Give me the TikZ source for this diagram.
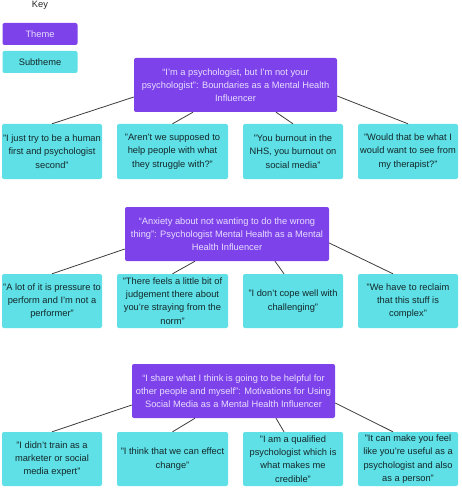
\documentclass[tikz,border=0pt]{standalone}
\usepackage{fontspec}
\setmainfont{Liberation Sans}
\usepackage{tikz}
\usetikzlibrary{positioning,calc}
\definecolor{themepurple}{RGB}{125,66,234}
\definecolor{themetext}{RGB}{232,222,255}
\definecolor{subcyan}{RGB}{94,224,230}
\definecolor{subtext}{RGB}{20,40,42}
\definecolor{linkgray}{RGB}{60,60,60}

\begin{document}
\begin{tikzpicture}[
    x=1pt, y=-1pt,
    theme/.style={rectangle, rounded corners=2pt, fill=themepurple, text=themetext, align=center,
        minimum width=203pt, minimum height=54pt, inner sep=0pt, font=\fontsize{9.3}{13.3}\selectfont},
    subtheme/.style={rectangle, rounded corners=2pt, fill=subcyan, text=subtext, align=center,
        minimum width=100pt, minimum height=55pt, inner sep=0pt, font=\fontsize{9.3}{13.3}\selectfont},
    keybox/.style={rectangle, rounded corners=2pt, minimum width=75pt, minimum height=22pt,
        inner sep=0pt, font=\fontsize{9.3}{13.3}\selectfont},
    link/.style={draw=linkgray, line width=0.8pt}
]
    \useasboundingbox (0,0) rectangle (461,489);

    % key
    \node[font=\fontsize{9.3}{13.3}\selectfont, text=black!85] (key) at (40,5.5) {Key};
    \node[keybox, fill=themepurple, text=themetext] (ktheme) at (40,34) {Theme};
    \node[keybox, fill=subcyan, text=subtext] (ksub) at (40,62) {Subtheme};

    % theme 1
    \node[theme] (t1) at (235.5,85) {``I'm a psychologist, but I'm not your\\psychologist'': Boundaries as a Mental Health\\Influencer};
    \node[subtheme] (s11) at (52,151.5) {"I just try to be a human\\first and psychologist\\second"};
    \node[subtheme, minimum width=111pt] (s12) at (172.5,151.5) {"Aren't we supposed to\\help people with what\\they struggle with?"};
    \node[subtheme] (s13) at (293,151.5) {"You burnout in the\\NHS, you burnout on\\social media"};
    \node[subtheme] (s14) at (408,151.5) {"Would that be what I\\would want to see from\\my therapist?"};

    \draw[link] ([yshift=-12pt]t1.west) -- (s11.north);
    \draw[link] ([xshift=-42.5pt]t1.south) -- (s12.north);
    \draw[link] ([xshift=40.5pt]t1.south) -- (s13.north);
    \draw[link] ([yshift=-11pt]t1.east) -- (s14.north);

    % theme 2
    \node[theme, minimum width=204pt] (t2) at (227,234) {``Anxiety about not wanting to do the wrong\\thing'': Psychologist Mental Health as a Mental\\Health Influencer};
    \node[subtheme, minimum height=54pt] (s21) at (52,301) {"A lot of it is pressure to\\perform and I'm not a\\performer"};
    \node[subtheme, minimum height=54pt, minimum width=111pt] (s22) at (172.5,301) {"There feels a little bit of\\judgement there about\\you're straying from the\\norm"};
    \node[subtheme, minimum height=54pt] (s23) at (293,301) {"I don't cope well with\\challenging"};
    \node[subtheme, minimum height=54pt] (s24) at (408,301) {"We have to reclaim\\that this stuff is\\complex"};

    \draw[link] ([yshift=-15pt]t2.west) -- (s21.north);
    \draw[link] ([xshift=-32pt]t2.south) -- (s22.north);
    \draw[link] ([xshift=48pt]t2.south) -- ([xshift=-9pt]s23.north);
    \draw[link] ([yshift=-9pt]t2.east) -- ([xshift=-15pt]s24.north);

    % theme 3
    \node[theme] (t3) at (233.5,391) {``I share what I think is going to be helpful for\\other people and myself'': Motivations for Using\\Social Media as a Mental Health Influencer};
    \node[subtheme, minimum height=54pt] (s31) at (52,459) {"I didn't train as a\\marketer or social\\media expert"};
    \node[subtheme, minimum height=54pt, minimum width=111pt] (s32) at (172.5,459) {"I think that we can effect\\change"};
    \node[subtheme, minimum height=54pt] (s33) at (293,459) {"I am a qualified\\psychologist which is\\what makes me\\credible"};
    \node[subtheme, minimum height=54pt] (s34) at (408,459) {"It can make you feel\\like you're useful as a\\psychologist and also\\as a person"};

    \draw[link] ([yshift=-14pt]t3.west) -- (s31.north);
    \draw[link] ([xshift=-38.5pt]t3.south) -- (s32.north);
    \draw[link] ([xshift=42.5pt]t3.south) -- ([xshift=-9pt]s33.north);
    \draw[link] ([yshift=-12pt]t3.east) -- ([xshift=-15pt]s34.north);
\end{tikzpicture}
\end{document}
